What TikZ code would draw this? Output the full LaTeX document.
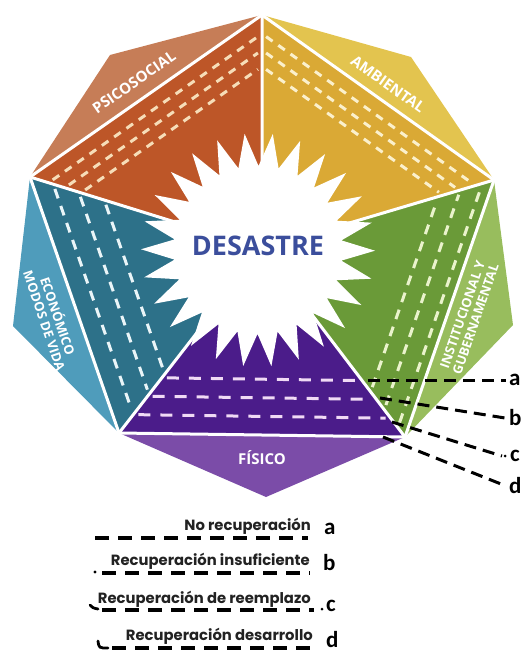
\documentclass[tikz,border=0pt]{standalone}
\usepackage{fontspec}
\setmainfont{Open Sans}
\newfontfamily\legfont{Poppins}
\newfontfamily\letfont{Carlito}
\usetikzlibrary{calc}
\definecolor{psidark}{HTML}{BD5628}
\definecolor{psicap}{HTML}{C67D57}
\definecolor{psidash}{HTML}{F6DDB8}
\definecolor{ambdark}{HTML}{DAA935}
\definecolor{ambcap}{HTML}{E3C44F}
\definecolor{ambdash}{HTML}{FBF0CC}
\definecolor{insdark}{HTML}{6A9A38}
\definecolor{inscap}{HTML}{98BD5D}
\definecolor{insdash}{HTML}{EAF3CC}
\definecolor{fisdark}{HTML}{4B1C8A}
\definecolor{fiscap}{HTML}{7B4CA8}
\definecolor{fisdash}{HTML}{F0DAF5}
\definecolor{ecodark}{HTML}{2D7189}
\definecolor{ecocap}{HTML}{4F9CBB}
\definecolor{ecodash}{HTML}{EAF5F8}
\definecolor{desblue}{HTML}{3B4E9C}
\definecolor{legink}{HTML}{222222}
\tikzset{
  caplbl/.style={text=white, font=\bfseries\fontsize{15}{15}\selectfont, inner sep=0pt, align=center},
  caplbltwo/.style={text=white, font=\bfseries\fontsize{13}{14}\selectfont, inner sep=0pt, align=center},
  sepline/.style={draw=white, line width=3, line join=round},
  innerdash/.style={line width=3, dash pattern=on 8 off 7, shorten <=5, shorten >=5},
  longdash/.style={line width=3, dash pattern=on 10 off 8, shorten <=5, shorten >=5},
  fisdashline/.style={line width=3, dash pattern=on 12 off 10, shorten <=5, shorten >=5},
  leader/.style={draw=black, line width=3, dash pattern=on 12 off 7},
  legdash/.style={draw=black, line width=3.4, dash pattern=on 14 off 9},
  letter/.style={font=\letfont\bfseries\fontsize{23}{23}\selectfont, inner sep=0pt},
  legtext/.style={text=legink, font=\legfont\bfseries\fontsize{14.8}{14.8}\selectfont, inner sep=0pt},
}
\begin{document}
\begin{tikzpicture}[x=1pt,y=-1pt]
\useasboundingbox (0,0) rectangle (528,652);
% pentagon vertices and centre
\coordinate (C) at (262,249);
\coordinate (T) at (262,15);
\coordinate (R) at (494,180);
\coordinate (BR) at (405,437);
\coordinate (BL) at (119,433);
\coordinate (L) at (30,177);
% outer cap apexes
\coordinate (kPs) at (110,55);
\coordinate (kAm) at (411,57);
\coordinate (kIn) at (513,325);
\coordinate (kFi) at (266,497);
\coordinate (kEc) at (13,326);
% caps
\fill[psicap] (T) -- (kPs) -- (L) -- cycle;
\fill[ambcap] (T) -- (kAm) -- (R) -- cycle;
\fill[inscap] (R) -- (kIn) -- (BR) -- cycle;
\fill[fiscap] (BR) -- (kFi) -- (BL) -- cycle;
\fill[ecocap] (BL) -- (kEc) -- (L) -- cycle;
% dark sectors
\fill[psidark] (C) -- (T) -- (L) -- cycle;
\fill[ambdark] (C) -- (T) -- (R) -- cycle;
\fill[insdark] (C) -- (R) -- (BR) -- cycle;
\fill[fisdark] (C) -- (BR) -- (BL) -- cycle;
\fill[ecodark] (C) -- (BL) -- (L) -- cycle;
% dashed lines
\foreach \t in {0.08,0.15,0.22}{
  \draw[innerdash, psidash] ($(L)!\t!(C)$) -- ($(T)!\t!(C)$);
  \draw[innerdash, ambdash] ($(T)!\t!(C)$) -- ($(R)!\t!(C)$);
}
\foreach \t in {0.05,0.145,0.24}{
  \draw[longdash, insdash] ($(BR)!\t!(C)$) -- ($(R)!\t!(C)$);
}
\foreach \t in {0.1,0.21,0.32}{
  \draw[longdash, ecodash] ($(L)!\t!(C)$) -- ($(BL)!\t!(C)$);
}
\foreach \t in {0.1,0.2,0.3}{
  \draw[fisdashline, fisdash] ($(BL)!\t!(C)$) -- ($(BR)!\t!(C)$);
}
% white separators
\draw[sepline] (T) -- (R) -- (BR) -- (BL) -- (L) -- cycle;
\draw[sepline] (C) -- (T) (C) -- (R) (C) -- (BR) (C) -- (BL) (C) -- (L);
% starburst
\begin{scope}[shift={(258,250)}]
  \fill[white] (0.35:117) \foreach \k in {1,...,26}{ -- ({0.35+\k*13.846-6.923}:84) -- ({0.35+\k*13.846}:117) } -- cycle;
\end{scope}
\node[text=desblue, font=\bfseries\fontsize{27}{27}\selectfont, inner sep=0pt] (des) at (258,246) {DESASTRE};
% cap labels
\node[caplbl, rotate=34.9] (lps) at (134,82) {PSICOSOCIAL};
\node[caplbl, rotate=-35.4] (lam) at (388,84) {AMBIENTAL};
\node[caplbltwo, rotate=70.9] (lin) at (469,317) {INSTITUCIONAL Y\\GUBERNAMENTAL};
\node[caplbl] (lfi) at (262,458) {FÍSICO};
\node[caplbltwo, rotate=-71.2] (lec) at (52,318) {ECONÓMICO\\MODOS DE VIDA};
% leader lines
\coordinate (sa) at (368,380);
\coordinate (sb) at (380,398);
\coordinate (sc) at (392,422);
\coordinate (sd) at (383,437);
\node[letter, anchor=west] (la) at (509,380) {a};
\node[letter, anchor=west] (lb) at (509,418) {b};
\node[letter, anchor=west] (lc) at (510,456) {c};
\node[letter, anchor=west] (ld) at (509,486) {d};
\draw[leader] (sa) -- ($(la.west)+(-3,0)$);
\draw[leader] (sb) -- ($(lb.west)+(-4,0)$);
\draw[leader] (sc) -- ($(lc.west)+(-8,0)$);
\fill (505,456) circle (1.5);
\draw[leader] (sd) -- ($(ld.west)+(-3,0)$);
% legend
\node[legtext, anchor=base east] (ta) at (311,530) {No recuperación};
\node[letter, anchor=base west] (ka) at (324,534) {a};
\draw[legdash] (95,538) -- (308,538);
\node[legtext, anchor=base east] (tb) at (310,565) {Recuperación insuficiente};
\node[letter, anchor=base west] (kb) at (323,570) {b};
\fill (95,572) circle (1.6);
\draw[legdash] (102,573) -- (310,573);
\node[legtext, anchor=base east] (tc) at (311,603) {Recuperación de reemplazo};
\node[letter, anchor=base west] (kc) at (326,611) {c};
\fill (322,609) circle (1.5);
\draw[line width=2.8, line cap=round] (90,605) .. controls (93,608) .. (98,609);
\draw[legdash] (102,610) -- (314,610);
\node[legtext, anchor=base east] (td) at (313,640) {Recuperación desarrollo};
\node[letter, anchor=base west] (kd) at (326,647) {d};
\draw[line width=2.8, line cap=round] (98,641) .. controls (99,648) .. (108,648);
\draw[legdash] (112,648) -- (317,648);
\end{tikzpicture}
\end{document}
